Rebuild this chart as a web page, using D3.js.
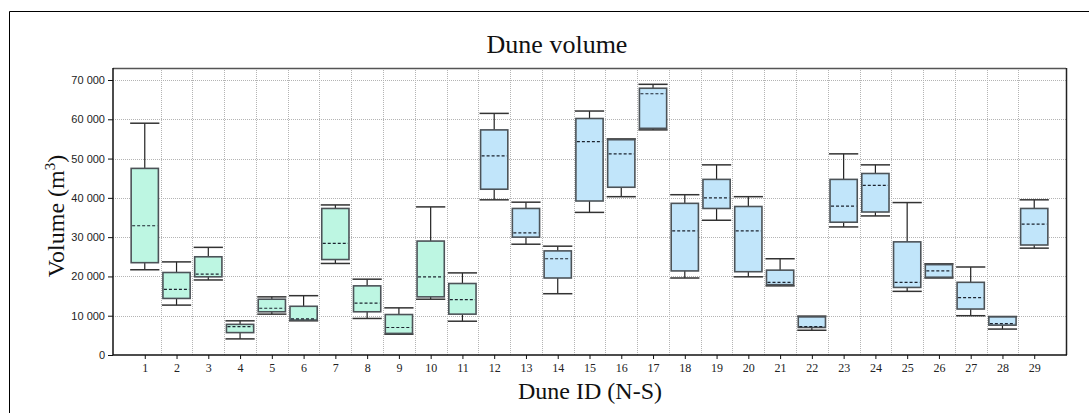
<!DOCTYPE html>
<html>
<head>
<meta charset="utf-8">
<script src="https://cdn.jsdelivr.net/npm/d3@7"></script>
<style>
  html, body { margin: 0; padding: 0; background: #fff; }
  svg { display: block; }
  .ytick text { font-family: "Liberation Sans", Arial, sans-serif; font-size: 11px; fill: #222; }
  .xtick text { font-family: "Liberation Serif", "Times New Roman", serif; font-size: 12px; fill: #222; }
</style>
</head>
<body>
<svg id="chart" width="1089" height="413"></svg>
<script>
// Dune identifiers, north to south
const duneIds = [1,2,3,4,5,6,7,8,9,10,11,12,13,14,15,16,17,18,19,20,21,22,23,24,25,26,27,28,29];
// Group of each dune (1 = northern set, 2 = southern set)
const duneGroup = [1,1,1,1,1,1,1,1,1,1,1,2,2,2,2,2,2,2,2,2,2,2,2,2,2,2,2,2,2];
// Box-plot statistics, volume in m3
const whiskerHigh = [59000,23700,27400,8700,14800,15100,38200,19300,12000,37700,20900,61500,38900,27700,62100,55000,68900,40800,48400,40300,24500,9900,51200,48400,38800,23200,22400,9800,39500];
const upperQuartile = [47500,21000,25000,7800,14200,12400,37300,17600,10300,29000,18200,57300,37300,26500,60200,54800,67900,38600,44700,37800,21600,9700,44700,46200,28800,23000,18500,9700,37300];
const medianVolume = [32900,16700,20600,7200,11900,9200,28400,13200,7000,19900,14100,50700,31100,24500,54300,51200,66500,31600,40000,31600,18500,7200,37900,43200,18500,21400,14600,8000,33300];
const lowerQuartile = [23500,14400,19900,5700,11000,8900,24300,11000,5500,14800,10400,42200,30000,19600,39200,42700,57700,21400,37300,21200,17900,7000,33800,36400,17200,19800,11700,7600,28000];
const whiskerLow = [21700,12700,19100,4100,10400,8700,23300,9300,5300,14200,8600,39500,28200,15600,36300,40300,57300,19600,34300,19900,17600,6300,32600,35400,16200,19600,10000,6600,27200];
// Y-axis tick values
const yTicks = [0,10000,20000,30000,40000,50000,60000,70000];

const groupFill = {1: "#bdf6e2", 2: "#c1e5fa"};

const svg = d3.select("#chart");
const plot = {left: 113, right: 1066, top: 68, bottom: 355};

const x = d3.scaleLinear().domain([0, 30]).range([plot.left, plot.right]);
const y = d3.scaleLinear().domain([0, 70000]).range([plot.bottom, 80]);

// Outer frame (top and left edges)
svg.append("path")
  .attr("d", `M9.5,413 V11.5 H1089`)
  .attr("fill", "none").attr("stroke", "#000").attr("stroke-width", 1);

// Title
svg.append("text")
  .attr("x", 557).attr("y", 53)
  .attr("text-anchor", "middle")
  .attr("font-family", "Liberation Serif, Times New Roman, serif")
  .attr("font-size", 26).attr("fill", "#111")
  .text("Dune volume");

// Grid lines
const grid = svg.append("g");
grid.selectAll("line.hg").data(yTicks.filter(d => d > 0)).join("line")
  .attr("x1", plot.left).attr("x2", plot.right)
  .attr("y1", d => Math.round(y(d)) + 0.5).attr("y2", d => Math.round(y(d)) + 0.5)
  .attr("stroke", "#b4b4b4").attr("stroke-dasharray", "1,1");
const vGrid = duneIds.slice(0, -1).map(d => d + 0.5);
grid.selectAll("line.vg").data(vGrid).join("line")
  .attr("x1", d => Math.round(x(d)) + 0.5).attr("x2", d => Math.round(x(d)) + 0.5)
  .attr("y1", plot.top).attr("y2", plot.bottom)
  .attr("stroke", "#b4b4b4").attr("stroke-dasharray", "1,1");

// Plot frame
svg.append("line").attr("x1", plot.left).attr("x2", plot.right)
  .attr("y1", plot.top + 0.5).attr("y2", plot.top + 0.5)
  .attr("stroke", "#555").attr("stroke-width", 1.5);
svg.append("line").attr("x1", plot.right + 0.5).attr("x2", plot.right + 0.5)
  .attr("y1", plot.top).attr("y2", plot.bottom)
  .attr("stroke", "#222").attr("stroke-width", 1.5);

// Box plots
const boxW = (x(1) - x(0)) * 0.92;
const rows = duneIds.map((id, i) => ({
  id, group: duneGroup[i],
  hi: whiskerHigh[i], q3: upperQuartile[i], med: medianVolume[i],
  q1: lowerQuartile[i], lo: whiskerLow[i]
}));

const boxes = svg.append("g").selectAll("g").data(rows).join("g");

// whisker stems
boxes.append("line")
  .attr("x1", d => x(d.id)).attr("x2", d => x(d.id))
  .attr("y1", d => y(d.hi)).attr("y2", d => y(d.lo))
  .attr("stroke", "#222").attr("stroke-width", 1.2);
// caps
boxes.append("line")
  .attr("x1", d => x(d.id) - boxW / 2).attr("x2", d => x(d.id) + boxW / 2)
  .attr("y1", d => y(d.hi)).attr("y2", d => y(d.hi))
  .attr("stroke", "#333").attr("stroke-width", 1.5);
boxes.append("line")
  .attr("x1", d => x(d.id) - boxW / 2).attr("x2", d => x(d.id) + boxW / 2)
  .attr("y1", d => y(d.lo)).attr("y2", d => y(d.lo))
  .attr("stroke", "#333").attr("stroke-width", 1.5);
// quartile box
boxes.append("rect")
  .attr("x", d => x(d.id) - boxW / 2 + 1).attr("width", boxW - 2)
  .attr("y", d => y(d.q3)).attr("height", d => y(d.q1) - y(d.q3))
  .attr("fill", d => groupFill[d.group])
  .attr("stroke", "#4c5358").attr("stroke-width", 1.6);
// median
boxes.append("line")
  .attr("x1", d => x(d.id) - boxW / 2 + 2).attr("x2", d => x(d.id) + boxW / 2 - 2)
  .attr("y1", d => y(d.med)).attr("y2", d => y(d.med))
  .attr("stroke", "#1c2430").attr("stroke-width", 1.2)
  .attr("stroke-dasharray", "3,2");

// Y axis
const loc = d3.formatLocale({decimal: ".", thousands: " ", grouping: [3], currency: ["", ""]});
const yAxis = svg.append("g").attr("class", "ytick")
  .attr("transform", `translate(${plot.left},0)`)
  .call(d3.axisLeft(y).tickValues(yTicks).tickFormat(loc.format(",")).tickSize(5).tickPadding(3));
yAxis.select(".domain").attr("d", `M0,${plot.top}V${plot.bottom}`).attr("stroke", "#111").attr("stroke-width", 1.5);
yAxis.selectAll(".tick line").attr("stroke", "#111");

// X axis
const xAxis = svg.append("g").attr("class", "xtick")
  .attr("transform", `translate(0,${plot.bottom})`)
  .call(d3.axisBottom(x).tickValues(duneIds).tickFormat(d3.format("d")).tickSize(4).tickPadding(4));
xAxis.select(".domain").attr("d", `M${plot.left},0H${plot.right + 1}`).attr("stroke", "#111").attr("stroke-width", 1.5);
xAxis.selectAll(".tick line").attr("stroke", "#111");

// Axis titles
svg.append("text")
  .attr("x", 590).attr("y", 399)
  .attr("text-anchor", "middle")
  .attr("font-family", "Liberation Serif, Times New Roman, serif")
  .attr("font-size", 24).attr("fill", "#111")
  .text("Dune ID (N-S)");

const yl = svg.append("text")
  .attr("transform", "translate(64,216) rotate(-90)")
  .attr("text-anchor", "middle")
  .attr("font-family", "Liberation Serif, Times New Roman, serif")
  .attr("font-size", 24).attr("fill", "#111");
yl.append("tspan").text("Volume (m");
yl.append("tspan").attr("font-size", 15).attr("dy", -9).text("3");
yl.append("tspan").attr("dy", 9).text(")");
</script>
</body>
</html>
